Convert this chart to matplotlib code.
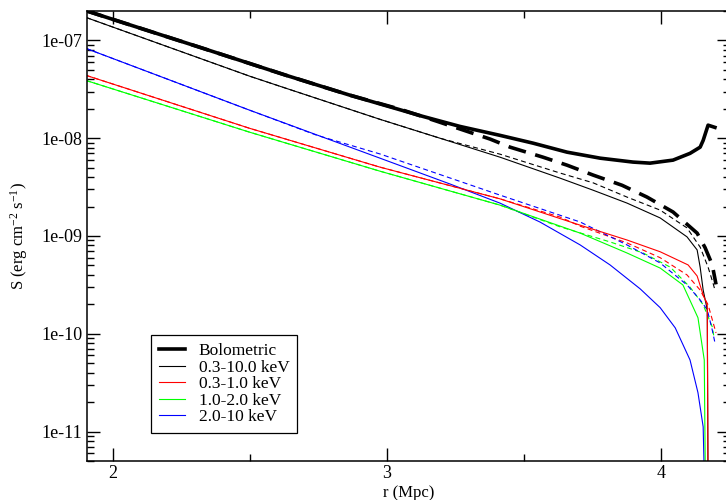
import matplotlib
matplotlib.use("Agg")
import matplotlib.pyplot as plt
from matplotlib.ticker import FixedLocator, MultipleLocator, LogLocator, FuncFormatter, NullFormatter

plt.rcParams['font.family'] = ['Liberation Serif', 'DejaVu Serif']
plt.rcParams['mathtext.default'] = 'regular'
plt.rcParams['lines.scale_dashes'] = False

# ---- data ----
bol_r = [1.90, 2.00, 2.318, 2.632, 2.866, 3.132, 3.267, 3.413, 3.534, 3.658, 3.779, 3.899, 3.961, 4.045, 4.107, 4.144, 4.155, 4.173, 4.198]
bol_s = [2.02e-7, 1.64e-7, 8.49e-8, 4.40e-8, 2.75e-8, 1.67e-8, 1.32e-8, 1.07e-8, 8.9e-9, 7.2e-9, 6.25e-9, 5.7e-9, 5.56e-9, 5.97e-9, 7.0e-9, 8.1e-9, 9.5e-9, 1.36e-8, 1.29e-8]

bol2_r = [1.90, 2.00, 2.318, 2.632, 2.866, 3.048, 3.183, 3.377, 3.450, 3.570, 3.658, 3.753, 3.859, 3.950, 4.045, 4.133, 4.162, 4.188, 4.202]
bol2_s = [2.02e-7, 1.64e-7, 8.49e-8, 4.40e-8, 2.75e-8, 1.98e-8, 1.49e-8, 9.8e-9, 8.1e-9, 6.4e-9, 5.3e-9, 4.2e-9, 3.3e-9, 2.5e-9, 1.76e-9, 1.07e-9, 7.6e-10, 5.1e-10, 3.2e-10]

tot_r = [1.901, 2.50, 2.632, 2.975, 3.194, 3.413, 3.633, 3.753, 3.877, 3.998, 4.096, 4.133, 4.144, 4.155, 4.170, 4.175]
tot_s = [1.72e-7, 4.3e-8, 3.24e-8, 1.56e-8, 1.0e-8, 6.4e-9, 3.9e-9, 2.94e-9, 2.17e-9, 1.53e-9, 9.8e-10, 7.2e-10, 4.8e-10, 2.8e-10, 1.76e-10, 1e-13]

tot2_r = [1.901, 2.50, 2.632, 2.975, 3.194, 3.413, 3.633, 3.753, 3.877, 3.998, 4.096, 4.144, 4.173, 4.191, 4.198]
tot2_s = [1.72e-7, 4.3e-8, 3.24e-8, 1.56e-8, 1.0e-8, 6.87e-9, 4.4e-9, 3.5e-9, 2.5e-9, 1.84e-9, 1.21e-9, 7.7e-10, 4.8e-10, 3.3e-10, 2.8e-10]

soft_r = [1.901, 2.50, 2.975, 3.413, 3.706, 3.877, 3.998, 4.100, 4.133, 4.155, 4.170, 4.175]
soft_s = [4.4e-8, 1.26e-8, 5.06e-9, 2.40e-9, 1.29e-9, 9.1e-10, 6.9e-10, 5.06e-10, 3.9e-10, 2.5e-10, 1.98e-10, 1e-13]

soft2_r = [1.901, 2.50, 2.975, 3.413, 3.633, 3.706, 3.877, 3.998, 4.096, 4.144, 4.173, 4.202]
soft2_s = [4.4e-8, 1.26e-8, 5.06e-9, 2.40e-9, 1.56e-9, 1.26e-9, 8.5e-10, 6.0e-10, 4.0e-10, 2.8e-10, 1.98e-10, 1.02e-10]

mid_r = [1.901, 2.50, 2.975, 3.413, 3.706, 3.877, 3.998, 4.081, 4.136, 4.159, 4.168]
mid_s = [3.9e-8, 1.15e-8, 4.6e-9, 2.07e-9, 1.07e-9, 6.7e-10, 4.7e-10, 3.16e-10, 1.46e-10, 5.4e-11, 1e-13]

mid2_r = [1.901, 2.50, 2.975, 3.413, 3.633, 3.815, 3.936, 4.035, 4.107, 4.155, 4.188, 4.195]
mid2_s = [3.9e-8, 1.15e-8, 4.6e-9, 2.07e-9, 1.24e-9, 8.7e-10, 6.7e-10, 4.8e-10, 3.0e-10, 1.98e-10, 1.18e-10, 9.1e-11]

hard_r = [1.901, 2.50, 2.975, 3.231, 3.413, 3.559, 3.706, 3.815, 3.925, 3.998, 4.053, 4.107, 4.136, 4.155, 4.172]
hard_s = [8.3e-8, 1.93e-8, 6.25e-9, 3.40e-9, 2.17e-9, 1.39e-9, 8.1e-10, 5.06e-10, 2.88e-10, 1.85e-10, 1.15e-10, 5.4e-11, 2.5e-11, 1.12e-11, 1e-13]

hard2_r = [1.901, 2.50, 2.745, 2.975, 3.413, 3.706, 3.877, 3.998, 4.096, 4.144, 4.170, 4.188, 4.198]
hard2_s = [8.3e-8, 1.93e-8, 1.07e-8, 6.9e-9, 2.62e-9, 1.39e-9, 8.1e-10, 5.3e-10, 3.16e-10, 2.22e-10, 1.76e-10, 1.1e-10, 8.1e-11]

labels = ["Bolometric", "0.3-10.0 keV", "0.3-1.0 keV", "1.0-2.0 keV", "2.0-10 keV"]
x_ticks = [2, 3, 4]
y_ticks = [1e-11, 1e-10, 1e-9, 1e-8, 1e-7]

# ---- figure ----
W, H = 726, 500
fig = plt.figure(figsize=(W / 100, H / 100), dpi=100)
ax = fig.add_axes([86.7 / W, (H - 461) / H, (730 - 86.7) / W, (461 - 11) / H])

thin = 0.8
thick = 2.6
sd = (3.6, 2.4)
ld = (13, 7)

ax.plot(tot2_r, tot2_s, color='black', lw=thin, dashes=sd)
ax.plot(soft2_r, soft2_s, color='#ff0000', lw=thin, dashes=sd)
ax.plot(mid2_r, mid2_s, color='#00ff00', lw=thin, dashes=sd)
ax.plot(hard2_r, hard2_s, color='#0000ff', lw=thin, dashes=sd)
ax.plot(bol2_r, bol2_s, color='black', lw=thick, dashes=ld)

ax.plot(bol_r, bol_s, color='black', lw=thick, label=labels[0])
ax.plot(tot_r, tot_s, color='black', lw=thin, label=labels[1])
ax.plot(hard_r, hard_s, color='#0000ff', lw=thin, label=labels[4])
ax.plot(mid_r, mid_s, color='#00ff00', lw=thin, label=labels[3])
ax.plot(soft_r, soft_s, color='#ff0000', lw=thin, label=labels[2])

ax.set_yscale('log')
ax.set_xlim(1.904, 4.253)
ax.set_ylim(5e-12, 2e-7)

ax.xaxis.set_major_locator(FixedLocator(x_ticks))
ax.xaxis.set_minor_locator(MultipleLocator(0.5))
ax.yaxis.set_major_locator(FixedLocator(y_ticks))
ax.yaxis.set_minor_locator(LogLocator(base=10, subs=range(2, 10), numticks=20))
ax.yaxis.set_minor_formatter(NullFormatter())
ax.yaxis.set_major_formatter(FuncFormatter(lambda v, p: f"{v:.0e}"))
ax.xaxis.set_major_formatter(FuncFormatter(lambda v, p: f"{v:g}"))

ax.tick_params(which='both', direction='in', top=True, right=True, labelsize=13, width=1.0)
ax.tick_params(which='major', length=9.5, pad=3)
ax.tick_params(which='minor', length=5)
for s in ax.spines.values():
    s.set_linewidth(1.1)

ax.set_xlabel('r (Mpc)', fontsize=12, labelpad=2)
ax.set_ylabel('S (erg cm$^{-2}$ s$^{-1}$)', fontsize=12, labelpad=8)

h, l = ax.get_legend_handles_labels()
hd = dict(zip(l, h))
leg = ax.legend([hd[x] for x in labels], labels, loc='lower left',
                bbox_to_anchor=((151 - 86.7) / (730 - 86.7), (461 - 433) / (461 - 11)),
                borderaxespad=0, fontsize=12.5, frameon=True, fancybox=False,
                edgecolor='black', framealpha=1, handlelength=1.5, handletextpad=0.8,
                labelspacing=0.02, borderpad=0.45)
leg.get_frame().set_linewidth(0.9)

fig.savefig('out.png', dpi=100)
